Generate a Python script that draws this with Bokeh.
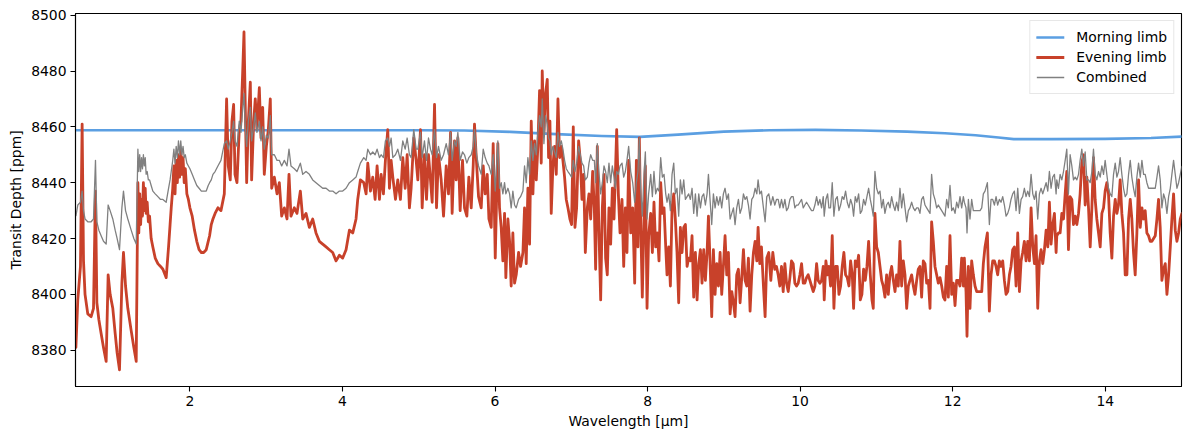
import numpy as np
from bokeh.plotting import figure
from bokeh.models import Range1d, FixedTicker, Legend, LegendItem, ColumnDataSource
from bokeh.embed import file_html
from bokeh.resources import INLINE

# ---- Morning limb (smooth model) ----
morning_wl = [0.5, 5.0, 5.6, 6.2, 6.8, 7.4, 7.9, 8.4, 9.0, 9.6, 10.2, 10.8,
              11.4, 11.9, 12.3, 12.6, 12.8, 13.3, 14.0, 14.6, 15.0]
morning_ppm = [8458.8, 8458.8, 8458.7, 8458.2, 8457.4, 8456.7, 8456.4, 8457.2,
               8458.3, 8458.8, 8458.9, 8458.7, 8458.3, 8457.7, 8457.0, 8456.2,
               8455.6, 8455.6, 8455.7, 8456.0, 8456.5]

# ---- Evening limb and combined spectrum, sampled on a shared wavelength grid ----
wl_band1 = [
    0.505, 0.530, 0.565, 0.587, 0.605, 0.625, 0.661, 0.705, 0.736, 0.762,
    0.780, 0.806, 0.836, 0.867, 0.902, 0.928, 0.954, 0.989, 1.020, 1.046,
    1.077, 1.108, 1.129, 1.156, 1.186, 1.230, 1.265, 1.296, 1.318, 1.330,
    1.342, 1.354, 1.366, 1.378, 1.390, 1.402, 1.414, 1.426, 1.440, 1.455,
    1.471, 1.492, 1.514, 1.545, 1.580, 1.615, 1.646, 1.689, 1.720, 1.740,
    1.755, 1.775, 1.790, 1.805, 1.820, 1.835, 1.850, 1.865, 1.880, 1.895,
    1.910, 1.925, 1.940, 1.960, 1.980, 2.000, 2.030, 2.060, 2.090, 2.120,
    2.150, 2.180, 2.214, 2.240, 2.258, 2.280, 2.302, 2.330, 2.367]
evening_band1 = [
    8381, 8398, 8410, 8461, 8412, 8400, 8393, 8392, 8395, 8437,
    8397, 8391, 8386, 8381, 8376, 8407, 8400, 8395, 8386, 8379,
    8373, 8404, 8415, 8403, 8395, 8387, 8381, 8376, 8440, 8422,
    8436, 8425, 8434, 8428, 8440, 8430, 8438, 8429, 8433, 8426,
    8428, 8420, 8417, 8413, 8411, 8410, 8409, 8406, 8417, 8425,
    8431, 8438, 8446, 8436, 8448, 8440, 8450, 8442, 8452, 8443,
    8449, 8440, 8445, 8436, 8434, 8431, 8428, 8423, 8419, 8416,
    8415, 8415, 8416, 8419, 8421, 8425, 8427, 8429, 8431]
combined_band1 = [
    8428, 8432, 8433, 8437, 8430, 8427, 8426, 8426, 8427, 8448,
    8426, 8423, 8421, 8419, 8418, 8432, 8430, 8427, 8423, 8420,
    8416, 8431, 8437, 8430, 8427, 8423, 8420, 8418, 8452, 8444,
    8450, 8444, 8449, 8445, 8450, 8446, 8449, 8443, 8444, 8441,
    8441, 8439, 8437, 8436, 8435, 8434, 8434, 8433, 8438, 8441,
    8444, 8448, 8452, 8447, 8453, 8449, 8455, 8450, 8455, 8450,
    8453, 8449, 8450, 8447, 8446, 8445, 8443, 8441, 8439, 8438,
    8437, 8437, 8437, 8439, 8440, 8441, 8443, 8444, 8446]

wl_band2 = [
    2.407, 2.451, 2.481, 2.503, 2.529, 2.551, 2.573, 2.591, 2.617, 2.647,
    2.669, 2.691, 2.709, 2.726, 2.744, 2.766, 2.792, 2.809, 2.836, 2.857,
    2.879, 2.910, 2.932, 2.954, 2.975, 3.002, 3.028, 3.054, 3.072, 3.107,
    3.142, 3.172, 3.203, 3.238, 3.273, 3.299, 3.325, 3.369, 3.404, 3.448,
    3.479, 3.522, 3.566, 3.610, 3.653, 3.697, 3.741, 3.785, 3.828, 3.872,
    3.916, 3.960, 4.003, 4.047, 4.091, 4.135]
evening_band2 = [
    8430, 8436, 8470, 8446, 8441, 8462, 8468, 8443, 8440, 8459,
    8462, 8479, 8494, 8467, 8440, 8462, 8476, 8441, 8462, 8470,
    8459, 8474, 8456, 8467, 8443, 8453, 8459, 8470, 8438, 8442,
    8436, 8440, 8428, 8431, 8427, 8443, 8428, 8431, 8429, 8437,
    8427, 8429, 8424, 8427, 8422, 8419, 8418, 8417, 8416, 8415,
    8412, 8414, 8413, 8416, 8423, 8422]
combined_band2 = [
    8448, 8454, 8455, 8452, 8455, 8458, 8462, 8455, 8453, 8462,
    8458, 8466, 8472, 8460, 8453, 8462, 8467, 8455, 8460, 8465,
    8458, 8462, 8455, 8460, 8452, 8457, 8456, 8464, 8450, 8450,
    8448, 8448, 8446, 8448, 8446, 8452, 8446, 8445, 8444, 8447,
    8443, 8444, 8443, 8441, 8440, 8439, 8438, 8438, 8437, 8437,
    8436, 8437, 8437, 8438, 8440, 8441]

wl_band3 = [
    4.178, 4.200, 4.235, 4.279, 4.310, 4.332, 4.367, 4.397, 4.428, 4.454,
    4.485, 4.507, 4.537, 4.563, 4.594, 4.616, 4.638, 4.660, 4.695, 4.725,
    4.760, 4.791, 4.822, 4.848, 4.878, 4.900, 4.935, 4.966, 4.988, 5.023,
    5.045, 5.075, 5.102, 5.128, 5.154, 5.176, 5.207, 5.233, 5.259, 5.294,
    5.325, 5.360, 5.390, 5.417, 5.438, 5.469, 5.491, 5.513, 5.543, 5.574,
    5.600, 5.631, 5.657, 5.688, 5.714, 5.731, 5.758, 5.784, 5.819, 5.845,
    5.871, 5.898, 5.920, 5.950, 5.976, 6.003]
evening_band3 = [
    8427, 8434, 8441, 8440, 8436, 8447, 8437, 8442, 8434, 8446,
    8434, 8443, 8436, 8448, 8459, 8438, 8448, 8442, 8434, 8441,
    8434, 8449, 8438, 8450, 8431, 8438, 8456, 8448, 8441, 8459,
    8431, 8450, 8434, 8450, 8441, 8433, 8468, 8431, 8450, 8441,
    8428, 8446, 8436, 8458, 8429, 8455, 8441, 8456, 8430, 8448,
    8431, 8428, 8442, 8431, 8446, 8461, 8447, 8435, 8431, 8446,
    8436, 8443, 8427, 8424, 8454, 8413]
combined_band3 = [
    8442, 8444, 8447, 8449, 8448, 8452, 8450, 8451, 8450, 8452,
    8449, 8450, 8449, 8455, 8456, 8453, 8456, 8449, 8450, 8452,
    8448, 8455, 8452, 8456, 8450, 8449, 8459, 8452, 8452, 8458,
    8449, 8455, 8448, 8456, 8452, 8450, 8459, 8449, 8453, 8448,
    8450, 8454, 8450, 8458, 8448, 8455, 8453, 8458, 8448, 8451,
    8450, 8447, 8449, 8450, 8453, 8459, 8450, 8446, 8443, 8452,
    8449, 8447, 8446, 8443, 8450, 8437]

wl_band4 = [
    6.037, 6.059, 6.081, 6.103, 6.125, 6.142, 6.169, 6.191, 6.212, 6.234,
    6.256, 6.278, 6.309, 6.335, 6.366, 6.387, 6.409, 6.431, 6.453, 6.475,
    6.497, 6.519, 6.541, 6.562, 6.584, 6.606, 6.619, 6.641, 6.663, 6.685,
    6.702, 6.720, 6.737, 6.759, 6.781, 6.803, 6.825, 6.847, 6.869, 6.890,
    6.912, 6.934, 6.956, 6.982, 7.004, 7.026, 7.048, 7.070, 7.096, 7.118,
    7.140, 7.162, 7.184, 7.210, 7.232, 7.254, 7.280, 7.302, 7.319, 7.341,
    7.359, 7.385, 7.407, 7.429, 7.450, 7.472, 7.494, 7.516, 7.538, 7.560,
    7.577, 7.595, 7.617, 7.639, 7.665, 7.687, 7.709, 7.730, 7.752, 7.779,
    7.805, 7.831, 7.853]
evening_band4 = [
    8454, 8431, 8424, 8412, 8429, 8406, 8427, 8419, 8403, 8422,
    8404, 8407, 8415, 8410, 8415, 8431, 8411, 8438, 8418, 8462,
    8436, 8455, 8441, 8453, 8473, 8447, 8480, 8458, 8472, 8477,
    8449, 8462, 8429, 8446, 8453, 8443, 8470, 8449, 8453, 8448,
    8442, 8434, 8431, 8427, 8425, 8460, 8424, 8431, 8455, 8448,
    8434, 8443, 8415, 8431, 8436, 8427, 8444, 8431, 8409, 8453,
    8427, 8398, 8431, 8443, 8413, 8407, 8431, 8418, 8438, 8427,
    8442, 8459, 8436, 8422, 8434, 8410, 8431, 8415, 8448, 8422,
    8431, 8404, 8448]
combined_band4 = [
    8455, 8438, 8440, 8436, 8440, 8436, 8438, 8436, 8431, 8437,
    8432, 8431, 8434, 8435, 8437, 8446, 8440, 8449, 8443, 8455,
    8448, 8454, 8450, 8458, 8464, 8460, 8470, 8454, 8464, 8461,
    8456, 8455, 8450, 8453, 8451, 8449, 8458, 8453, 8455, 8452,
    8448, 8445, 8444, 8443, 8442, 8448, 8444, 8447, 8453, 8450,
    8447, 8446, 8441, 8442, 8447, 8450, 8448, 8448, 8440, 8454,
    8445, 8436, 8440, 8446, 8444, 8440, 8447, 8440, 8446, 8442,
    8438, 8444, 8443, 8446, 8447, 8442, 8444, 8448, 8453, 8444,
    8440, 8433, 8440]

wl_band5 = [
    7.874, 7.892, 7.909, 7.931, 7.953, 7.971, 7.993, 8.014, 8.041, 8.063,
    8.084, 8.106, 8.128, 8.150, 8.172, 8.194, 8.216, 8.238, 8.255, 8.277,
    8.299, 8.321, 8.343, 8.364, 8.386, 8.408, 8.430, 8.452, 8.474, 8.496,
    8.518, 8.539, 8.561, 8.583, 8.605, 8.627, 8.649, 8.671, 8.693, 8.714,
    8.736, 8.758, 8.780, 8.798, 8.819, 8.841, 8.863, 8.885, 8.907, 8.929,
    8.951, 8.972, 8.994, 9.016, 9.038, 9.060, 9.082, 9.104, 9.126, 9.147,
    9.169, 9.191, 9.213, 9.235, 9.257, 9.279, 9.301, 9.322, 9.344, 9.366,
    9.388, 9.410, 9.432, 9.449, 9.471, 9.493, 9.519, 9.541, 9.563, 9.589,
    9.616, 9.642, 9.668, 9.690]
evening_band5 = [
    8417, 8456, 8427, 8399, 8427, 8446, 8395, 8421, 8429, 8415,
    8433, 8417, 8422, 8412, 8440, 8429, 8431, 8417, 8407, 8417,
    8403, 8431, 8436, 8427, 8415, 8397, 8424, 8415, 8424, 8425,
    8410, 8413, 8412, 8421, 8399, 8415, 8398, 8411, 8416, 8404,
    8416, 8405, 8415, 8428, 8412, 8392, 8416, 8400, 8411, 8403,
    8415, 8400, 8410, 8421, 8407, 8415, 8393, 8401, 8397, 8392,
    8407, 8409, 8397, 8406, 8416, 8405, 8403, 8413, 8394, 8407,
    8415, 8419, 8412, 8424, 8411, 8417, 8403, 8392, 8413, 8415,
    8405, 8415, 8409, 8410]
combined_band5 = [
    8444, 8456, 8438, 8428, 8443, 8451, 8427, 8436, 8443, 8435,
    8444, 8436, 8438, 8437, 8449, 8442, 8443, 8436, 8433, 8436,
    8430, 8443, 8447, 8436, 8438, 8428, 8441, 8436, 8441, 8434,
    8435, 8436, 8434, 8438, 8429, 8436, 8428, 8436, 8431, 8435,
    8436, 8432, 8436, 8443, 8434, 8425, 8436, 8431, 8435, 8432,
    8435, 8431, 8436, 8438, 8434, 8436, 8427, 8429, 8431, 8425,
    8431, 8434, 8429, 8431, 8436, 8434, 8435, 8432, 8427, 8434,
    8435, 8438, 8436, 8441, 8436, 8437, 8431, 8426, 8435, 8436,
    8432, 8435, 8432, 8434]

wl_band6 = [
    9.712, 9.734, 9.756, 9.778, 9.800, 9.822, 9.844, 9.866, 9.887, 9.909,
    9.931, 9.953, 9.975, 9.997, 10.019, 10.041, 10.062, 10.084, 10.106, 10.128,
    10.150, 10.172, 10.194, 10.216, 10.237, 10.259, 10.281, 10.303, 10.316, 10.338,
    10.360, 10.377, 10.399, 10.421, 10.443, 10.465, 10.487, 10.509, 10.531, 10.552,
    10.574, 10.596, 10.618, 10.640, 10.662, 10.684, 10.701, 10.723, 10.745, 10.767,
    10.789, 10.810, 10.832, 10.854, 10.876, 10.898, 10.920, 10.942, 10.959, 10.981,
    11.003, 11.025, 11.047, 11.069, 11.090, 11.112, 11.134, 11.156, 11.178, 11.200,
    11.222, 11.244, 11.265, 11.287, 11.309, 11.331, 11.353, 11.375, 11.397, 11.419,
    11.440, 11.462, 11.484, 11.506, 11.528]
evening_band6 = [
    8407, 8403, 8410, 8401, 8411, 8404, 8401, 8406, 8412, 8411,
    8404, 8403, 8404, 8407, 8411, 8404, 8404, 8406, 8407, 8405,
    8403, 8401, 8403, 8411, 8405, 8404, 8405, 8410, 8398, 8412,
    8407, 8410, 8403, 8421, 8395, 8410, 8410, 8400, 8403, 8410,
    8415, 8407, 8406, 8403, 8412, 8407, 8395, 8412, 8410, 8414,
    8398, 8400, 8409, 8405, 8410, 8419, 8407, 8398, 8395, 8429,
    8417, 8415, 8410, 8405, 8403, 8399, 8407, 8400, 8407, 8410,
    8405, 8401, 8407, 8403, 8419, 8403, 8412, 8407, 8395, 8403,
    8405, 8407, 8403, 8400, 8405]
combined_band6 = [
    8434, 8431, 8434, 8431, 8434, 8430, 8431, 8434, 8435, 8435,
    8431, 8432, 8432, 8433, 8434, 8431, 8432, 8433, 8432, 8431,
    8430, 8430, 8432, 8435, 8432, 8434, 8431, 8435, 8428, 8434,
    8436, 8431, 8431, 8440, 8428, 8434, 8435, 8430, 8432, 8435,
    8434, 8437, 8433, 8431, 8434, 8432, 8428, 8435, 8433, 8436,
    8429, 8430, 8434, 8432, 8435, 8438, 8434, 8431, 8428, 8444,
    8438, 8436, 8437, 8431, 8434, 8429, 8432, 8433, 8431, 8435,
    8432, 8430, 8433, 8430, 8438, 8431, 8436, 8431, 8426, 8430,
    8431, 8433, 8431, 8430, 8431]

wl_band7 = [
    11.549, 11.571, 11.593, 11.615, 11.637, 11.659, 11.681, 11.703, 11.724, 11.746,
    11.768, 11.790, 11.812, 11.834, 11.856, 11.878, 11.899, 11.921, 11.943, 11.965,
    11.987, 12.009, 12.031, 12.052, 12.074, 12.096, 12.118, 12.140, 12.153, 12.175,
    12.188, 12.206, 12.227, 12.249, 12.271, 12.293, 12.315, 12.337, 12.359, 12.381,
    12.402, 12.424, 12.455, 12.481, 12.503, 12.525, 12.547, 12.569, 12.590, 12.612,
    12.634, 12.656, 12.678, 12.700, 12.722, 12.744, 12.765, 12.787, 12.809, 12.831,
    12.853, 12.875, 12.897, 12.918, 12.940, 12.962, 12.984, 13.006, 13.028, 13.050,
    13.072, 13.093, 13.115, 13.137, 13.159, 13.181, 13.203, 13.225, 13.247, 13.268,
    13.290, 13.312, 13.334, 13.356]
evening_band7 = [
    8409, 8410, 8399, 8412, 8411, 8404, 8405, 8395, 8426, 8419,
    8410, 8407, 8404, 8406, 8403, 8399, 8398, 8410, 8399, 8421,
    8400, 8404, 8396, 8405, 8405, 8403, 8413, 8403, 8413, 8401,
    8385, 8410, 8395, 8412, 8407, 8403, 8401, 8401, 8401, 8401,
    8411, 8417, 8422, 8394, 8407, 8412, 8412, 8410, 8407, 8412,
    8410, 8412, 8405, 8400, 8401, 8407, 8410, 8416, 8417, 8403,
    8422, 8401, 8412, 8415, 8419, 8412, 8419, 8412, 8431, 8417,
    8411, 8421, 8395, 8412, 8416, 8411, 8416, 8423, 8417, 8433,
    8418, 8425, 8429, 8415]
combined_band7 = [
    8431, 8429, 8434, 8435, 8432, 8431, 8430, 8429, 8443, 8436,
    8434, 8431, 8432, 8431, 8430, 8429, 8428, 8434, 8431, 8439,
    8430, 8431, 8429, 8433, 8431, 8435, 8431, 8435, 8433, 8431,
    8422, 8434, 8427, 8434, 8430, 8430, 8430, 8430, 8430, 8431,
    8436, 8437, 8440, 8425, 8434, 8434, 8432, 8435, 8432, 8434,
    8433, 8435, 8432, 8428, 8429, 8431, 8434, 8436, 8437, 8430,
    8438, 8429, 8434, 8435, 8438, 8435, 8437, 8435, 8443, 8436,
    8434, 8437, 8427, 8436, 8438, 8436, 8438, 8440, 8437, 8444,
    8438, 8442, 8443, 8436]

wl_band8 = [
    13.365, 13.387, 13.409, 13.431, 13.453, 13.475, 13.496, 13.518, 13.540, 13.562,
    13.584, 13.606, 13.628, 13.650, 13.671, 13.693, 13.715, 13.737, 13.759, 13.781,
    13.803, 13.825, 13.846, 13.868, 13.890, 13.912, 13.934, 13.956, 13.978, 13.999,
    14.021, 14.043, 14.065, 14.087, 14.109, 14.131, 14.153, 14.174, 14.196, 14.218,
    14.240, 14.262, 14.284, 14.306, 14.328, 14.349, 14.371, 14.393, 14.415, 14.437,
    14.459, 14.481, 14.503, 14.524, 14.546, 14.568, 14.590, 14.612, 14.634, 14.656,
    14.678, 14.699, 14.721, 14.743, 14.765, 14.787, 14.809, 14.831, 14.853, 14.874,
    14.896, 14.918, 14.940, 14.962, 14.984, 15.006]
evening_band8 = [
    8421, 8422, 8422, 8429, 8427, 8436, 8444, 8416, 8435, 8434,
    8425, 8428, 8425, 8429, 8436, 8447, 8450, 8432, 8442, 8431,
    8417, 8431, 8449, 8434, 8427, 8422, 8417, 8429, 8431, 8437,
    8440, 8436, 8422, 8413, 8428, 8434, 8429, 8432, 8441, 8429,
    8422, 8407, 8407, 8427, 8434, 8427, 8415, 8407, 8422, 8441,
    8424, 8431, 8427, 8430, 8422, 8421, 8419, 8419, 8420, 8421,
    8427, 8434, 8424, 8405, 8409, 8411, 8400, 8407, 8417, 8427,
    8436, 8423, 8419, 8422, 8427, 8429]
combined_band8 = [
    8441, 8438, 8443, 8441, 8444, 8448, 8452, 8436, 8450, 8446,
    8441, 8442, 8441, 8443, 8448, 8452, 8446, 8451, 8441, 8441,
    8440, 8444, 8452, 8443, 8441, 8444, 8442, 8446, 8443, 8448,
    8443, 8438, 8436, 8435, 8443, 8447, 8442, 8444, 8449, 8443,
    8438, 8435, 8436, 8443, 8448, 8442, 8438, 8435, 8442, 8447,
    8442, 8448, 8443, 8443, 8440, 8438, 8438, 8438, 8438, 8438,
    8442, 8446, 8441, 8431, 8436, 8434, 8429, 8435, 8438, 8443,
    8448, 8443, 8438, 8440, 8443, 8446]

x_ticks = [2, 4, 6, 8, 10, 12, 14]
y_ticks = [8380, 8400, 8420, 8440, 8460, 8480, 8500]

wavelength = (wl_band1 + wl_band2 + wl_band3 + wl_band4 +
              wl_band5 + wl_band6 + wl_band7 + wl_band8)
evening = (evening_band1 + evening_band2 + evening_band3 + evening_band4 +
           evening_band5 + evening_band6 + evening_band7 + evening_band8)
combined = (combined_band1 + combined_band2 + combined_band3 + combined_band4 +
            combined_band5 + combined_band6 + combined_band7 + combined_band8)

spec = ColumnDataSource(dict(wl=wavelength, evening=evening, combined=combined))
morn = ColumnDataSource(dict(wl=morning_wl, ppm=morning_ppm))

FONT = "DejaVu Sans"
FS = "13.9px"

p = figure(width=1189, height=439, output_backend="svg", toolbar_location=None,
           x_range=Range1d(0.5, 15.0), y_range=Range1d(8367.0, 8500.6))
p.min_border_left = 75
p.min_border_right = 8
p.min_border_top = 13
p.min_border_bottom = 53
p.background_fill_color = "white"
p.border_fill_color = "white"
p.outline_line_color = "black"
p.outline_line_width = 1.1
p.grid.visible = False

r_morn = p.line("wl", "ppm", source=morn, line_color="#5b9fe2", line_width=2.6,
                line_join="round", line_cap="round")
r_even = p.line("wl", "evening", source=spec, line_color="#c8412a", line_width=2.8,
                line_join="round", line_cap="round")
r_comb = p.line("wl", "combined", source=spec, line_color="#808080", line_width=1.3,
                line_join="round")

for ax in (p.xaxis[0], p.yaxis[0]):
    ax.axis_line_color = "black"
    ax.axis_line_width = 1.1
    ax.major_tick_line_color = "black"
    ax.major_tick_line_width = 1.1
    ax.major_tick_in = 0
    ax.major_tick_out = 5
    ax.minor_tick_line_color = None
    ax.major_label_text_font = FONT
    ax.major_label_text_font_size = FS
    ax.major_label_text_color = "black"
    ax.axis_label_text_font = FONT
    ax.axis_label_text_font_size = FS
    ax.axis_label_text_font_style = "normal"
    ax.axis_label_text_color = "black"
    ax.major_label_standoff = 4
    ax.axis_label_standoff = 4

p.xaxis[0].ticker = FixedTicker(ticks=x_ticks)
p.yaxis[0].ticker = FixedTicker(ticks=y_ticks)
p.xaxis[0].axis_label = "Wavelength [µm]"
p.yaxis[0].axis_label = "Transit Depth [ppm]"

legend = Legend(items=[
    LegendItem(label="Morning limb", renderers=[r_morn]),
    LegendItem(label="Evening limb", renderers=[r_even]),
    LegendItem(label="Combined", renderers=[r_comb]),
], location="top_right")
legend.margin = 7
legend.padding = 6
legend.spacing = 0
legend.label_text_font = FONT
legend.label_text_font_size = FS
legend.label_text_color = "black"
legend.label_standoff = 12
legend.glyph_width = 28
legend.glyph_height = 20
legend.label_height = 20
legend.border_line_color = "#d0d0d0"
legend.border_line_width = 1
legend.background_fill_alpha = 0.8
p.add_layout(legend)

open("out.html", "w").write(file_html(p, INLINE))
